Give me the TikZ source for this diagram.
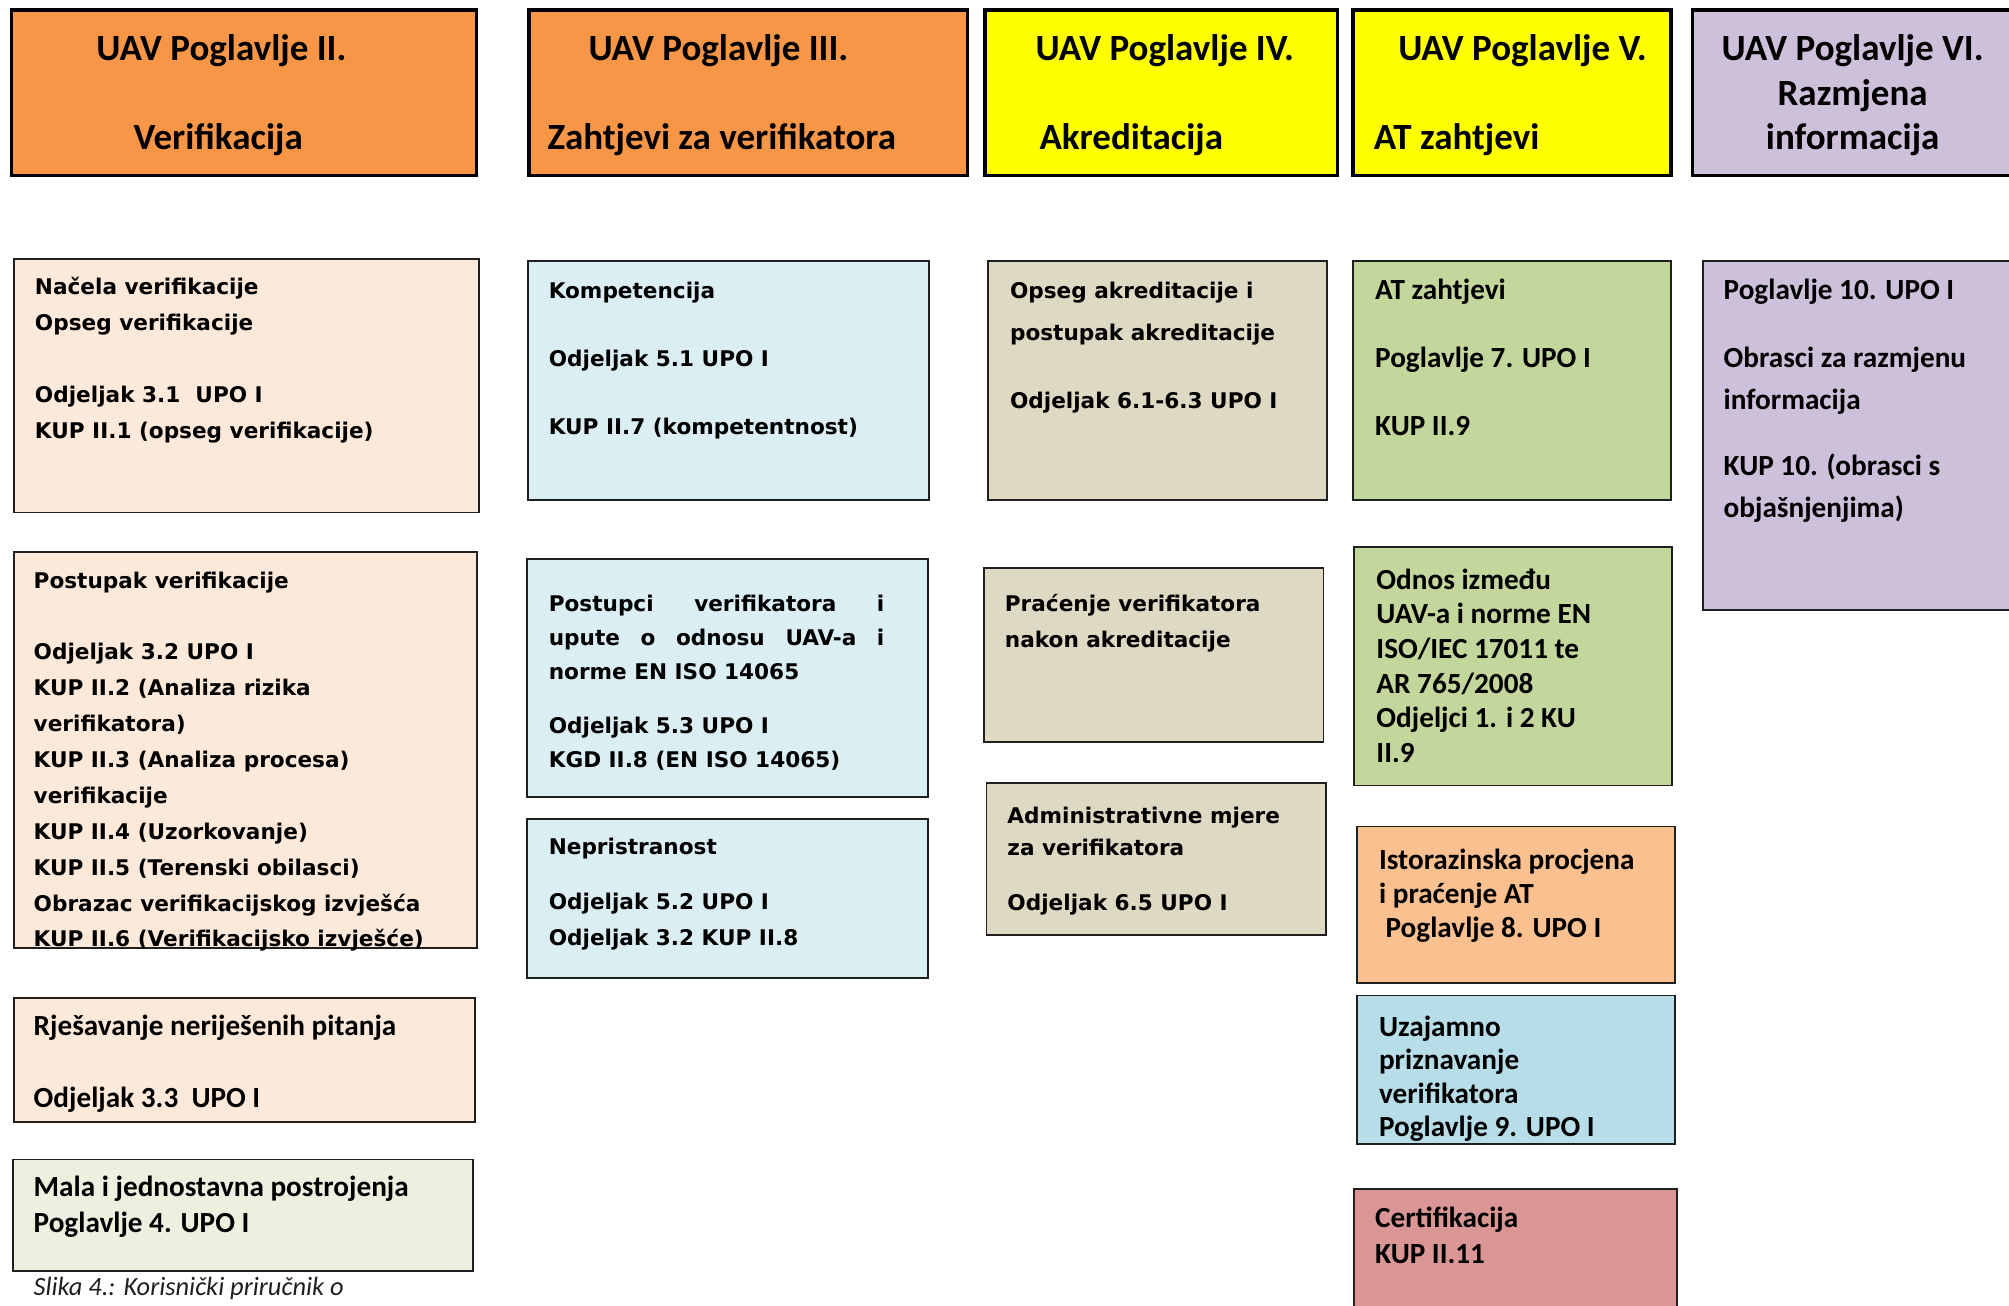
\documentclass[tikz,border=0pt]{standalone}
\usepackage{fontspec}
\setmainfont{Carlito}
\newfontfamily\calib{Carlito}
\newfontfamily\verd{DejaVu Sans}
\usetikzlibrary{fit}
\definecolor{hOrange}{HTML}{F79646}
\definecolor{hYellow}{HTML}{FFFF00}
\definecolor{lavender}{HTML}{CCC0DA}
\definecolor{peach}{HTML}{FDE9D9}
\definecolor{paleGreen}{HTML}{EBF1DE}
\definecolor{paleBlue}{HTML}{DBEEF3}
\definecolor{tanbox}{HTML}{DDD9C3}
\definecolor{olivebox}{HTML}{C3D69B}
\definecolor{apricot}{HTML}{FAC090}
\definecolor{skyBlue}{HTML}{B7DDE8}
\definecolor{rosebox}{HTML}{D99694}
\newcommand{\rows}[2]{\vtop{\baselineskip=#1\lineskiplimit=-50pt\lineskip=0pt\halign{##\hfil\cr#2\crcr}}}
\begin{document}
\begin{tikzpicture}[x=0.6406pt,y=-0.6406pt,
  hdrbox/.style={draw=black, line width=1.8pt, inner sep=0pt, outer sep=0pt},
  bodybox/.style={draw=black!88, line width=0.9pt, inner sep=0pt, outer sep=0pt},
  vtxt/.style={font=\verd\bfseries\fontsize{10.8}{12.8}\selectfont, inner sep=0pt, anchor=base west},
  ctxt/.style={font=\calib\bfseries\fontsize{14.6}{17.5}\selectfont, inner sep=0pt, anchor=base west},
  htxt/.style={font=\calib\bfseries\fontsize{18.5}{22}\selectfont, inner sep=0pt, anchor=base west},
  captxt/.style={font=\calib\itshape\fontsize{13.2}{15}\selectfont, text=black!88, inner sep=0pt, anchor=base west}]
\clip (0,0) rectangle (1568,1019);
\fill[white] (0,0) rectangle (1568,1019);

% headers
\node[hdrbox, fill=hOrange, fit={(9,8) (372,137)}] (h1) {};
\node[hdrbox, fill=hOrange, fit={(413,8) (755,137)}] (h2) {};
\node[hdrbox, fill=hYellow, fit={(769,8) (1044,137)}] (h3) {};
\node[hdrbox, fill=hYellow, fit={(1056,8) (1304,137)}] (h4) {};
\node[hdrbox, fill=lavender, fit={(1321,8) (1590,137)}] (h5) {};
\node[htxt] (h1a) at (75,47) {UAV Poglavlje II.};
\node[htxt] (h1b) at (104,117) {Verifikacija};
\node[htxt] (h2a) at (459,47) {UAV Poglavlje III.};
\node[htxt] (h2b) at (427,117) {Zahtjevi za verifikatora};
\node[htxt] (h3a) at (808,47) {UAV Poglavlje IV.};
\node[htxt] (h3b) at (811,117) {Akreditacija};
\node[htxt] (h4a) at (1091,47) {UAV Poglavlje V.};
\node[htxt] (h4b) at (1072,117) {AT zahtjevi};
\node[htxt, anchor=base] (h5a) at (1446,47) {UAV Poglavlje VI.};
\node[htxt, anchor=base] (h5b) at (1446,82) {Razmjena};
\node[htxt, anchor=base] (h5c) at (1446,117) {informacija};

% column 1
\node[bodybox, fill=peach, fit={(11,202) (374,400)}] (b1) {};
\node[vtxt] (b1t) at (27,230) {\rows{17.94pt}{Načela verifikacije\cr Opseg verifikacije\cr\cr Odjeljak 3.1\ \ UPO I\cr KUP II.1 (opseg verifikacije)}};
\node[bodybox, fill=peach, fit={(11,431) (372,740)}] (b2) {};
\node[vtxt] (b2t) at (26,459) {\rows{17.94pt}{Postupak verifikacije\cr\cr Odjeljak 3.2 UPO I\cr KUP II.2 (Analiza rizika\cr verifikatora)\cr KUP II.3 (Analiza procesa)\cr verifikacije\cr KUP II.4 (Uzorkovanje)\cr KUP II.5 (Terenski obilasci)\cr Obrazac verifikacijskog izvješća\cr KUP II.6 (Verifikacijsko izvješće)}};
\node[bodybox, fill=peach, fit={(11,779) (371,876)}] (b3) {};
\node[ctxt] (b3t) at (26,808) {\rows{17.94pt}{Rješavanje neriješenih pitanja\cr\cr Odjeljak 3.3\ \ UPO I}};
\node[bodybox, fill=paleGreen, fit={(10,905) (369,992)}] (b4) {};
\node[ctxt] (b4t) at (26,934) {\rows{17.94pt}{Mala i jednostavna postrojenja\cr Poglavlje 4. UPO I}};
\node[captxt] (capt) at (26,1011) {Slika 4.: Korisnički priručnik o};

% column 2
\node[bodybox, fill=paleBlue, fit={(412,204) (725,390)}] (c1) {};
\node[vtxt] (c1t) at (428,233) {\rows{16.98pt}{Kompetencija\cr\cr Odjeljak 5.1 UPO I\cr\cr KUP II.7 (kompetentnost)}};
\node[bodybox, fill=paleBlue, fit={(411,436) (724,622)}] (c2) {};
\node[vtxt] (c2t) at (428,477) {\rows{17pt}{\makebox[167.8pt][s]{Postupci verifikatora i}\cr \makebox[167.8pt][s]{upute o odnosu UAV-a i}\cr norme EN ISO 14065\cr\noalign{\vskip 10pt} Odjeljak 5.3 UPO I\cr KGD II.8 (EN ISO 14065)}};
\node[bodybox, fill=paleBlue, fit={(411,639) (724,763)}] (c3) {};
\node[vtxt] (c3t) at (428,667) {\rows{17.94pt}{Nepristranost\cr\noalign{\vskip 9.6pt} Odjeljak 5.2 UPO I\cr Odjeljak 3.2 KUP II.8}};

% column 3
\node[bodybox, fill=tanbox, fit={(771,204) (1036,390)}] (d1) {};
\node[vtxt] (d1t) at (788,233) {\rows{21.1pt}{Opseg akreditacije i\cr postupak akreditacije\cr\noalign{\vskip 12.8pt} Odjeljak 6.1-6.3 UPO I}};
\node[bodybox, fill=tanbox, fit={(768,443) (1033,579)}] (d2) {};
\node[vtxt] (d2t) at (784,477) {\rows{17.94pt}{Praćenje verifikatora\cr nakon akreditacije}};
\node[bodybox, fill=tanbox, fit={(770,611) (1035,730)}] (d3) {};
\node[vtxt] (d3t) at (786,643) {\rows{16pt}{Administrativne mjere\cr za verifikatora\cr\noalign{\vskip 11.5pt} Odjeljak 6.5 UPO I}};

% column 4
\node[bodybox, fill=olivebox, fit={(1056,204) (1304,390)}] (e1) {};
\node[ctxt] (e1t) at (1073,234) {\rows{16.98pt}{AT zahtjevi\cr\cr Poglavlje 7. UPO I\cr\cr KUP II.9}};
\node[bodybox, fill=olivebox, fit={(1057,427) (1305,613)}] (e2) {};
\node[ctxt] (e2t) at (1074,460) {\rows{17.3pt}{Odnos između\cr UAV-a i norme EN\cr ISO/IEC 17011 te\cr AR 765/2008\cr Odjeljci 1. i 2 KU\cr II.9}};
\node[bodybox, fill=apricot, fit={(1059,645) (1307,767)}] (e3) {};
\node[ctxt] (e3t) at (1076,679) {\rows{17pt}{Istorazinska procjena\cr i praćenje AT\cr \ Poglavlje 8. UPO I}};
\node[bodybox, fill=skyBlue, fit={(1059,777) (1307,893)}] (e4) {};
\node[ctxt] (e4t) at (1076,809) {\rows{16.66pt}{Uzajamno\cr priznavanje\cr verifikatora\cr Poglavlje 9. UPO I}};
\node[bodybox, fill=rosebox, fit={(1057,928) (1309,1035)}] (e5) {};
\node[ctxt] (e5t) at (1073,958) {\rows{17.94pt}{Certifikacija\cr KUP II.11}};

% column 5
\node[bodybox, fill=lavender, fit={(1329,204) (1590,476)}] (f1) {};
\node[ctxt] (f1t) at (1345,234) {\rows{20.8pt}{Poglavlje 10. UPO I\cr\noalign{\vskip 13pt} Obrasci za razmjenu\cr informacija\cr\noalign{\vskip 12.5pt} KUP 10. (obrasci s\cr objašnjenjima)}};
\end{tikzpicture}
\end{document}
